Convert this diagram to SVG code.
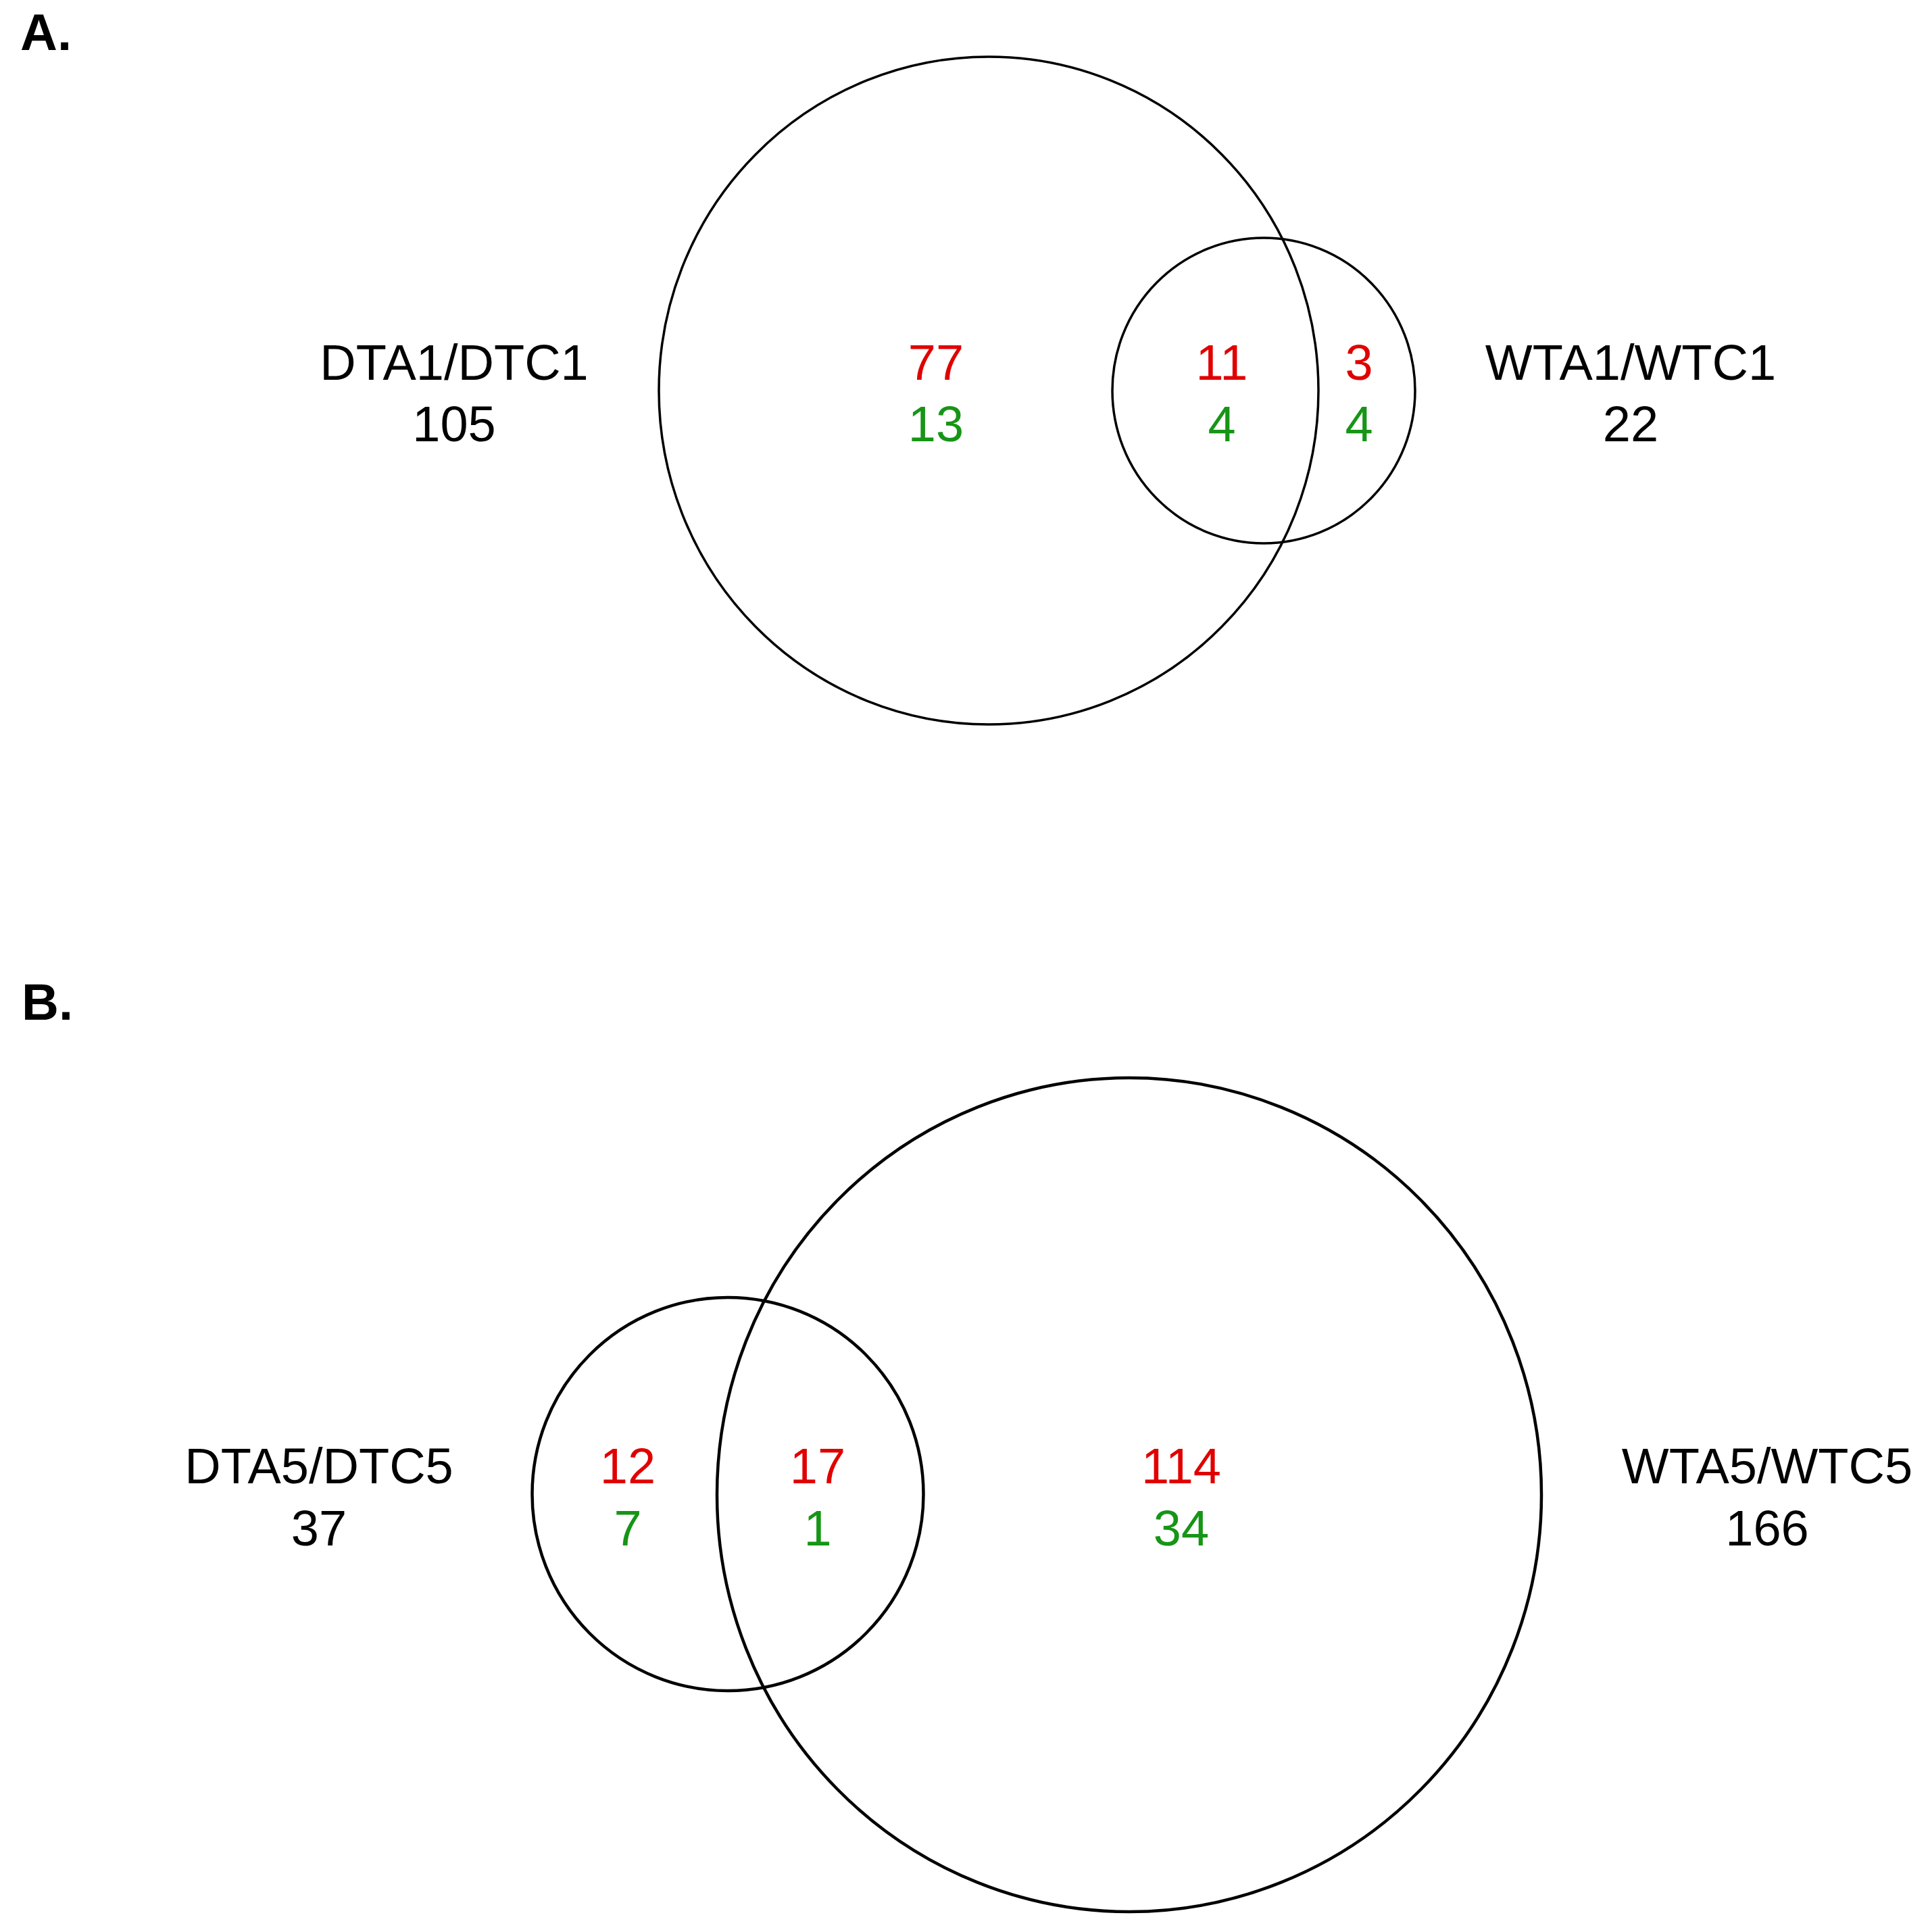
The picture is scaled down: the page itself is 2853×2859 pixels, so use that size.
<svg xmlns="http://www.w3.org/2000/svg" width="2853" height="2859" viewBox="0 0 2853 2859">
<style>
text{font-family:"Liberation Sans",Arial,sans-serif;font-size:74px;text-anchor:middle}
.k{fill:#000}
.r{fill:#e00000}
.g{fill:#169516}
.p{font-weight:bold;text-anchor:start;font-size:76px}
.ca{fill:none;stroke:#000;stroke-width:3.5}
.cb{fill:none;stroke:#000;stroke-width:4.5}
</style>
<rect width="2853" height="2859" fill="#fff"/>
<g id="panelA">
<text class="p" x="30" y="74">A.</text>
<g id="setA1">
<ellipse class="ca" cx="1463" cy="578" rx="488" ry="494"/>
<text class="k" x="672" y="562">DTA1/DTC1</text>
<text class="k" x="672" y="653">105</text>
</g>
<g id="setA2">
<ellipse class="ca" cx="1870" cy="578" rx="224" ry="226"/>
<text class="k" x="2413" y="562">WTA1/WTC1</text>
<text class="k" x="2413" y="653">22</text>
</g>
<g id="countsA">
<text class="r" x="1385" y="562">77</text>
<text class="g" x="1385" y="653">13</text>
<text class="r" x="1808" y="562">11</text>
<text class="g" x="1808" y="653">4</text>
<text class="r" x="2011" y="562">3</text>
<text class="g" x="2011" y="653">4</text>
</g>
</g>
<g id="panelB">
<text class="p" x="32" y="1509">B.</text>
<g id="setB1">
<ellipse class="cb" cx="1077" cy="2211" rx="289.5" ry="291"/>
<text class="k" x="472" y="2195">DTA5/DTC5</text>
<text class="k" x="472" y="2287">37</text>
</g>
<g id="setB2">
<ellipse class="cb" cx="1671" cy="2212" rx="610" ry="617"/>
<text class="k" x="2615" y="2195">WTA5/WTC5</text>
<text class="k" x="2615" y="2287">166</text>
</g>
<g id="countsB">
<text class="r" x="929" y="2195">12</text>
<text class="g" x="929" y="2287">7</text>
<text class="r" x="1210" y="2195">17</text>
<text class="g" x="1210" y="2287">1</text>
<text class="r" x="1748" y="2195">114</text>
<text class="g" x="1748" y="2287">34</text>
</g>
</g>
<g id="connectors"/>
</svg>
